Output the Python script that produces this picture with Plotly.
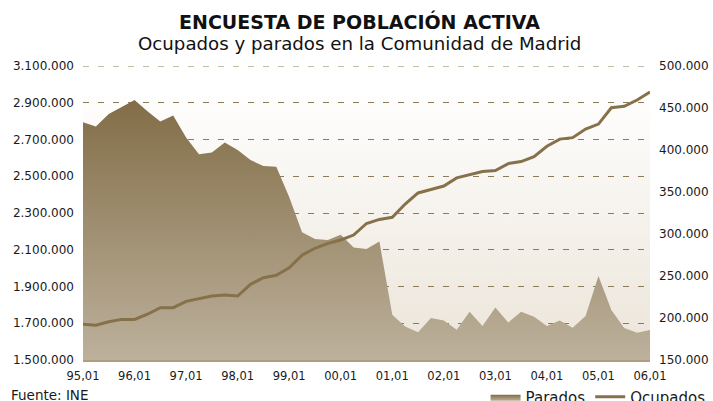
import base64
import plotly.graph_objects as go

# ---- data -------------------------------------------------------------
years = ["95", "96", "97", "98", "99", "00", "01", "02", "03", "04", "05", "06"]
quarters = [f"{y},{q:02d}" for y in years for q in (1, 2, 3, 4)][:45]

# Parados (right axis)
parados = [
    433000, 428000, 443000, 451000,
    459500, 446000, 434000, 441000,
    415000, 395000, 397000, 409000,
    400000, 388000, 381000, 380000,
    344000, 302000, 294000, 293000,
    299000, 284000, 282000, 291000,
    204000, 190000, 183000, 200000,
    197000, 186000, 207500, 190500,
    212500, 194500, 207500, 201500,
    190500, 197000, 188500, 202500,
    250000, 209500, 188000, 182500,
    185700,
]

# Ocupados (left axis)
ocupados = [
    1694000, 1689000, 1708000, 1721000,
    1721000, 1749000, 1785000, 1785000,
    1819000, 1832000, 1848000, 1854000,
    1848000, 1912000, 1948000, 1961000,
    2002000, 2071000, 2108000, 2135000,
    2153000, 2180000, 2243000, 2265000,
    2277000, 2349000, 2409000, 2428000,
    2447000, 2491000, 2507000, 2526000,
    2531000, 2569000, 2580000, 2607000,
    2663000, 2702000, 2710000, 2757000,
    2784000, 2873000, 2881000, 2915000,
    2958000,
]

tick_labels = quarters[::4]
left_top = 3100000

FONT = "DejaVu Sans"
BROWN = "#87714a"
GRID = "#8d7a58"

# background gradient of the plot area (svg data uri)
svg = ('<svg xmlns="http://www.w3.org/2000/svg" width="10" height="100" '
       'viewBox="0 0 10 100" preserveAspectRatio="none">'
       '<defs><linearGradient id="g" x1="0" y1="0" x2="0" y2="1">'
       '<stop offset="0" stop-color="#ffffff"/>'
       '<stop offset="0.07" stop-color="#ffffff"/>'
       '<stop offset="1" stop-color="#ebe4d8"/>'
       '</linearGradient></defs>'
       '<rect x="0" y="0" width="10" height="100" fill="url(#g)"/></svg>')
bg_src = "data:image/svg+xml;base64," + base64.b64encode(svg.encode()).decode()

fig = go.Figure()

fig.add_trace(go.Scatter(
    x=quarters, y=parados, name="Parados", mode="lines",
    line=dict(width=0, color="#8a7550"),
    fill="tozeroy",
    fillgradient=dict(type="vertical",
                      colorscale=[[0, "#bdb19c"], [1, "#826d47"]],
                      start=150000, stop=460000),
    yaxis="y",
))

fig.add_trace(go.Scatter(
    x=quarters, y=ocupados, name="Ocupados", mode="lines",
    line=dict(width=3, color=BROWN),
    yaxis="y2",
))

fig.update_layout(
    width=713, height=401,
    margin=dict(l=83, r=63, t=66, b=41, autoexpand=False),
    paper_bgcolor="white",
    plot_bgcolor="rgba(0,0,0,0)",
    separators=",.",
    font=dict(family=FONT, size=12, color="#1a1a1a"),
    showlegend=True,
    legend=dict(orientation="h", x=0.71, xanchor="left", y=-0.07, yanchor="top",
                font=dict(size=15, family=FONT, color="#1a1a1a"),
                bgcolor="rgba(0,0,0,0)", itemwidth=30),
    xaxis=dict(type="category", range=[0, 44], automargin=False,
               tickvals=tick_labels, ticktext=tick_labels,
               showgrid=False, zeroline=False, ticks="",
               showline=True, linecolor="#b09d7c", linewidth=2,
               tickfont=dict(size=11.5), ticklabelstandoff=4),
    yaxis=dict(side="right", range=[150000, 500000], dtick=50000, tick0=150000,
               tickformat=",.0f", showgrid=False, zeroline=False, automargin=False,
               ticks="", tickfont=dict(size=12), ticklabelstandoff=8),
    yaxis2=dict(side="left", overlaying="y", range=[1500000, left_top],
                dtick=200000, tick0=1500000, automargin=False,
                tickformat=",.0f", showgrid=True, gridcolor=GRID,
                griddash="6px,9px", gridwidth=1, zeroline=False,
                ticks="", tickfont=dict(size=12), ticklabelstandoff=8),
    images=[dict(source=bg_src, xref="paper", yref="paper", x=0, y=1,
                 sizex=1, sizey=1, sizing="stretch", layer="below",
                 xanchor="left", yanchor="top")],
    shapes=[dict(type="line", xref="paper", yref="y2", x0=0, x1=1,
                 y0=left_top, y1=left_top, layer="below",
                 line=dict(color=GRID, width=1, dash="6px,9px"))],
    annotations=[
        dict(text="<b>ENCUESTA DE POBLACIÓN ACTIVA</b>", xref="paper", yref="paper",
             x=0.488, y=1.153, xanchor="center", yanchor="middle", showarrow=False,
             font=dict(size=19, family=FONT, color="#111111")),
        dict(text="Ocupados y parados en la Comunidad de Madrid", xref="paper", yref="paper",
             x=0.488, y=1.077, xanchor="center", yanchor="middle", showarrow=False,
             font=dict(size=18.2, family=FONT, color="#111111")),
        dict(text="Fuente: INE", xref="paper", yref="paper",
             x=-0.1304, y=-0.119, xanchor="left", yanchor="middle", showarrow=False,
             font=dict(size=13.5, family=FONT, color="#1a1a1a")),
    ],
)

fig.write_html("out.html", config={"displayModeBar": False},
               post_script="document.body.style.margin='0';document.body.style.overflow='hidden';")
